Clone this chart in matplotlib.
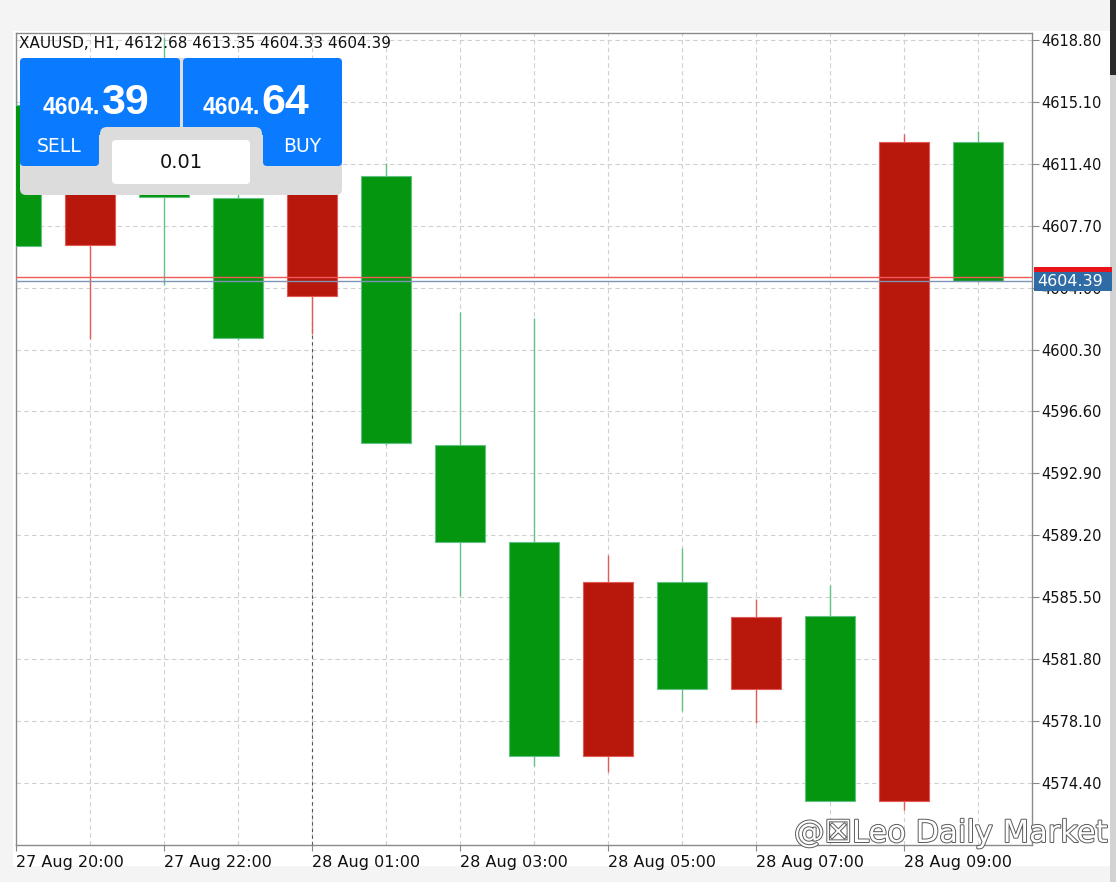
import numpy as np
import matplotlib
matplotlib.use("Agg")
import matplotlib.pyplot as plt
import matplotlib.transforms as mtransforms
from matplotlib.patches import Rectangle, FancyBboxPatch
from matplotlib import patheffects

# XAUUSD H1 candles
times = ["27 Aug 20:00", "27 Aug 21:00", "27 Aug 22:00", "27 Aug 23:00",
         "28 Aug 01:00", "28 Aug 02:00", "28 Aug 03:00", "28 Aug 04:00",
         "28 Aug 05:00", "28 Aug 06:00", "28 Aug 07:00", "28 Aug 08:00",
         "28 Aug 09:00", "28 Aug 10:00"]
opens = [4614.90, 4606.57, 4611.20, 4609.37, 4603.47, 4610.69, 4594.58,
         4588.79, 4576.02, 4586.40, 4580.02, 4584.37, 4573.33, 4612.68]
highs = [4616.50, 4612.40, 4619.00, 4609.60, 4611.00, 4611.46, 4602.57,
         4602.21, 4588.01, 4588.43, 4585.39, 4586.22, 4613.19, 4613.35]
lows = [4606.50, 4600.90, 4604.18, 4600.85, 4601.20, 4594.60, 4585.57,
        4575.42, 4575.06, 4578.70, 4578.00, 4573.30, 4572.80, 4604.33]
closes = [4606.51, 4611.20, 4609.43, 4600.96, 4610.60, 4594.70, 4588.79,
          4576.02, 4586.40, 4580.02, 4584.31, 4573.33, 4612.73, 4604.39]

price_ticks = [4574.40, 4578.10, 4581.80, 4585.50, 4589.20, 4592.90, 4596.60,
               4600.30, 4604.00, 4607.70, 4611.40, 4615.10, 4618.80]
bid = 4604.39
ask = 4604.64
symbol = "XAUUSD"
period = "H1"
lot = "0.01"
separator_at = "28 Aug 01:00"
watermark = "@\u2612Leo Daily Market"

# colours: this terminal draws rising candles red and falling ones green
RED_BODY, RED_EDGE = "#b8170b", "#e25a55"
GREEN_BODY, GREEN_EDGE = "#04960f", "#62c283"
BLUE = "#0a7aff"
PANEL_GRAY = "#dcdcdc"

W, H = 1116, 882


def px_rect(x0, y0, x1, y1):
    """figure-fraction rect from pixel box (top-left origin)"""
    return [x0 / W, 1 - y1 / H, (x1 - x0) / W, (y1 - y0) / H]


fig = plt.figure(figsize=(W / 100, H / 100), dpi=100, facecolor="#f4f4f4")
fig.patches.append(Rectangle((13 / W, 1 - 866 / H), (1110 - 13) / W, (866 - 31) / H,
                             transform=fig.transFigure, facecolor="white",
                             edgecolor="none", zorder=-10))
fig.patches.append(Rectangle((1110 / W, 0), 6 / W, 1, transform=fig.transFigure,
                             facecolor="#d2d2d2", edgecolor="none", zorder=-9))
fig.patches.append(Rectangle((1110 / W, 1 - 75 / H), 6 / W, 75 / H,
                             transform=fig.transFigure, facecolor="#2a2a2a",
                             edgecolor="none", zorder=-8))

ax = fig.add_axes(px_rect(16, 33, 1032, 845))
ax.set_facecolor("white")

x = np.arange(len(times))
o = np.array(opens)
c = np.array(closes)
up = c >= o

# wicks then bodies
wick_cols = [RED_EDGE if u else GREEN_EDGE for u in up]
ax.vlines(x, lows, highs, colors=wick_cols, linewidth=1, zorder=2)
ax.bar(x, np.abs(c - o), bottom=np.minimum(o, c), width=0.67,
       color=[RED_BODY if u else GREEN_BODY for u in up],
       edgecolor=[RED_EDGE if u else GREEN_EDGE for u in up],
       linewidth=0.8, zorder=3)

ax.set_xlim(0, 13.73)
ax.set_ylim(4570.68, 4619.22)

# price scale on the right
ax.yaxis.tick_right()
ax.set_yticks(price_ticks)
ax.set_yticklabels([f"{v:.2f}" for v in price_ticks])
ax.tick_params(axis="y", direction="out", length=5, width=0.8, color="#888888",
               pad=2, labelsize=10.5, labelcolor="#111111")

ax.set_xticks(x[::2])
ax.set_xticklabels(times[::2])
for lbl in ax.get_xticklabels():
    lbl.set_ha("left")
ax.set_xticks(x, minor=True)
ax.tick_params(axis="x", which="major", direction="out", length=4, width=0.8,
               color="#888888", pad=3, labelsize=11.5, labelcolor="#111111")
ax.tick_params(axis="x", which="minor", length=0)

ax.set_axisbelow(True)
grid_kw = dict(color="#d0d0d0", linewidth=0.8, linestyle=(0, (4, 3)))
ax.grid(True, axis="x", which="both", **grid_kw)
ax.grid(True, axis="y", which="major", **grid_kw)

# period separator, only visible below the candle it starts at
sep_i = times.index(separator_at)
y0, y1 = ax.get_ylim()
ax.axvline(sep_i, ymax=(min(opens[sep_i], closes[sep_i]) - y0) / (y1 - y0),
           color="#555555", linewidth=0.8, linestyle=(0, (3, 3)), zorder=1.5)

for sp in ax.spines.values():
    sp.set_color("#8a8a8a")
    sp.set_linewidth(1)

# ask / bid lines and the bid label on the price scale
ax.axhline(ask, color="#f05a5a", linewidth=1, zorder=4)
ax.axhline(bid, color="#7f95b8", linewidth=1, zorder=4)
trans = mtransforms.blended_transform_factory(ax.transAxes, ax.transData)
box_h = 19 / 16.73
ax.add_patch(Rectangle((1.002, ask - box_h / 2), 0.077, box_h, transform=trans,
                       facecolor="#e8141a", edgecolor="none", clip_on=False, zorder=5))
ax.add_patch(Rectangle((1.002, bid - box_h / 2), 0.077, box_h, transform=trans,
                       facecolor="#2f6ba5", edgecolor="none", clip_on=False, zorder=6))
ax.text(1.005, bid, f"{bid:.2f}", transform=trans, color="white", fontsize=11.5,
        va="center", ha="left", zorder=7, clip_on=False)

# overlay in pixel coordinates for the one-click trading panel etc.
ui = fig.add_axes([0, 0, 1, 1], zorder=10)
ui.set_xlim(0, W)
ui.set_ylim(H, 0)
ui.axis("off")
ui.patch.set_alpha(0)

ui.text(19, 44, f"{symbol}, {period}, {opens[-1]:.2f} {highs[-1]:.2f} "
        f"{lows[-1]:.2f} {closes[-1]:.2f}", fontsize=11, color="#111111",
        va="center", ha="left")


def rbox(x0, y0, w, h, fc, r=5):
    ui.add_patch(FancyBboxPatch((x0, y0), w, h, boxstyle=f"round,pad=0,rounding_size={r}",
                                facecolor=fc, edgecolor="none"))


rbox(20, 58, 322, 137, PANEL_GRAY, 6)
rbox(20, 58, 160, 77, BLUE, 4)
rbox(20, 100, 79, 66, BLUE, 4)
rbox(183, 58, 159, 77, BLUE, 4)
rbox(263, 100, 79, 66, BLUE, 4)
rbox(100, 127, 162, 60, PANEL_GRAY, 7)
rbox(112, 140, 138, 44, "white", 4)

ui.text(181, 162, lot, fontsize=14, color="#111111", ha="center", va="center")
ui.text(59, 147, "SELL", fontsize=13.5, color="white", ha="center", va="center")
ui.text(302, 147, "BUY", fontsize=13.5, color="white", ha="center", va="center")

price_font = ["Liberation Sans", "DejaVu Sans"]
for split_x, price in [(100, bid), (260, ask)]:
    s = f"{price:.2f}"
    head, tail = s[:-2], s[-2:]
    ui.text(split_x, 114, head, fontsize=16.5, fontweight="bold", family=price_font,
            color="white", ha="right", va="baseline")
    ui.text(split_x + 1, 114, tail, fontsize=31, fontweight="bold", family=price_font,
            color="white", ha="left", va="baseline")

ui.text(794, 842, watermark, fontsize=22, color="white", ha="left", va="baseline",
        family=["DejaVu Sans"],
        path_effects=[patheffects.withStroke(linewidth=1.4, foreground="#5a5a5a")])

fig.savefig("out.png", dpi=100, facecolor=fig.get_facecolor())
